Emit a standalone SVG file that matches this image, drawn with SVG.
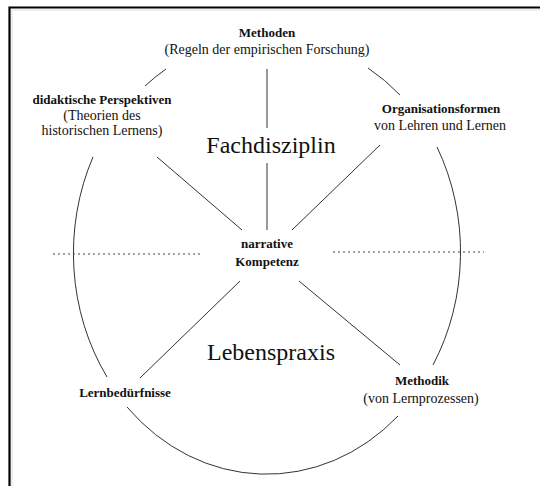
<svg xmlns="http://www.w3.org/2000/svg" width="540" height="486" viewBox="0 0 540 486">
<style>
.t{font-family:"Liberation Serif","Times New Roman",serif;fill:#111;text-anchor:middle}
.b{font-weight:bold;font-size:13px}
.r{font-size:14px}
.big{font-size:24px}
.ln{stroke:#333;stroke-width:1;fill:none}
.dot{stroke:#444;stroke-width:1;stroke-dasharray:2 3;fill:none}
</style>
<rect x="0" y="0" width="540" height="486" fill="#fff"/>
<g id="frame">
<path d="M9.5 486 V7.5 H540" fill="none" stroke="#000" stroke-width="2.2"/>
<path d="M12 486 V10 H540" fill="none" stroke="#ddd" stroke-width="1"/>
</g>
<g id="connectors">
<!-- ellipse segments: center (267,253) rx 194 ry 220 -->
<path class="ln" d="M145 86 A194 220 0 0 1 166 69"/>
<path class="ln" d="M368 68 A194 220 0 0 1 400 95"/>
<path class="ln" d="M93 157 A194 220 0 0 0 107 377"/>
<path class="ln" d="M437 147 A194 220 0 0 1 433 365"/>
<path class="ln" d="M127 407 A194 220 0 0 0 398 416"/>
<line class="ln" x1="267" y1="69" x2="267" y2="128"/>
<line class="ln" x1="267" y1="163" x2="267" y2="230"/>
<line class="ln" x1="157" y1="157" x2="242" y2="230"/>
<line class="ln" x1="380" y1="145" x2="292" y2="230"/>
<line class="ln" x1="240" y1="281" x2="140" y2="378"/>
<line class="ln" x1="299" y1="281" x2="400" y2="365"/>
<line class="dot" x1="53" y1="254" x2="200" y2="254"/>
<line class="dot" x1="333" y1="252" x2="484" y2="252"/>
</g>
<g id="methoden">
<text class="t b" x="267" y="37">Methoden</text>
<text class="t r" x="267" y="54">(Regeln der empirischen Forschung)</text>
</g>
<g id="didaktische">
<text class="t b" x="102" y="104">didaktische Perspektiven</text>
<text class="t r" x="102" y="120">(Theorien des</text>
<text class="t r" x="102" y="135">historischen Lernens)</text>
</g>
<g id="organisationsformen">
<text class="t b" x="441" y="113">Organisationsformen</text>
<text class="t r" x="440" y="130">von Lehren und Lernen</text>
</g>
<g id="fachdisziplin">
<text class="t big" x="271" y="153">Fachdisziplin</text>
</g>
<g id="kompetenz">
<text class="t b" x="267" y="248">narrative</text>
<text class="t b" x="267" y="266">Kompetenz</text>
</g>
<g id="lebenspraxis">
<text class="t big" x="271" y="360">Lebenspraxis</text>
</g>
<g id="lernbeduerfnisse">
<text class="t b" x="125" y="397">Lernbedürfnisse</text>
</g>
<g id="methodik">
<text class="t b" x="422" y="385">Methodik</text>
<text class="t r" x="421" y="403">(von Lernprozessen)</text>
</g>
</svg>
